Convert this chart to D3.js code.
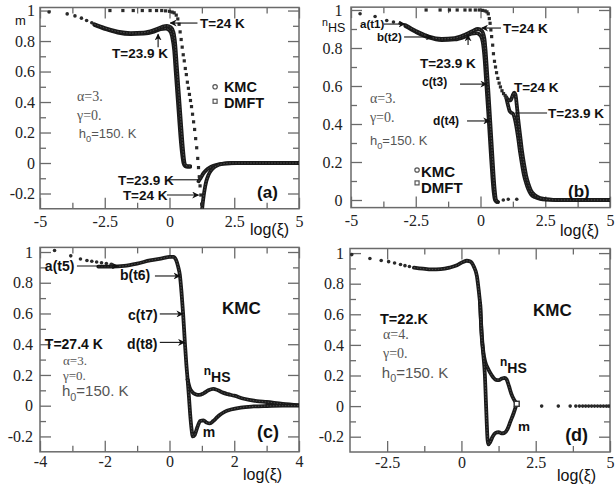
<!DOCTYPE html>
<html><head><meta charset="utf-8">
<script src="https://cdn.jsdelivr.net/npm/d3@7"></script>
<style>body{margin:0;background:#fff} svg{display:block}</style>
</head><body><svg id="c" width="616" height="487"></svg>
<script>
// ---------------- DATA ----------------
// Panel (a): m vs log(xi)
const aHeadX = [-4.65,-3.95,-3.65,-3.4,-3.2,-3.0];
const aHeadY = [0.99,0.978,0.965,0.95,0.935,0.92];
const aKmc24X = [-2.9,-2.5,-2.0,-1.5,-1.0,-0.6,-0.3,-0.1,0.05,0.15,0.22,0.28,0.34,0.4,0.46,0.52,0.57,0.62,0.7,0.8];
const aKmc24Y = [0.91,0.885,0.862,0.852,0.855,0.872,0.892,0.9,0.89,0.86,0.78,0.64,0.5,0.36,0.22,0.09,0.01,-0.015,-0.02,-0.02];
const aKmc239X = [-2.9,-2.5,-2.0,-1.5,-1.0,-0.6,-0.35,-0.15,0.0,0.1,0.18,0.24,0.3,0.36,0.42,0.48,0.54,0.6,0.7,0.8];
const aKmc239Y = [0.905,0.88,0.855,0.845,0.848,0.862,0.878,0.882,0.87,0.83,0.74,0.6,0.46,0.32,0.18,0.07,0.0,-0.02,-0.025,-0.025];
const aDmftDotX = [-2.3,-1.8,-1.4,-1.05,-0.75,-0.5,-0.3,-0.15,0.0,0.1,0.18,0.26,0.32,0.37,0.41,0.45,0.49,0.53,0.57,0.61,0.65,0.69,0.73,0.77,0.81,0.85,0.89,0.93,0.97,1.01,1.05,1.09,1.12,1.15,1.18,1.21,1.24];
const aDmftDotY = [1.0,1.0,1.0,1.0,1.0,1.0,1.0,0.998,0.995,0.99,0.985,0.97,0.945,0.91,0.86,0.81,0.76,0.71,0.67,0.62,0.58,0.53,0.49,0.45,0.41,0.37,0.32,0.27,0.22,0.16,0.1,0.03,-0.03,-0.09,-0.15,-0.21,-0.27];
const aDmft24X = [1.26,1.3,1.35,1.42,1.5,1.6,1.75,1.9,2.1,2.4,3,4,5];
const aDmft24Y = [-0.3,-0.24,-0.18,-0.12,-0.08,-0.05,-0.025,-0.012,-0.004,0,0,0,0];
const aDmft239X = [1.12,1.2,1.3,1.4,1.55,1.7,1.9,2.2,2.6,3,4,5];
const aDmft239Y = [-0.12,-0.1,-0.07,-0.05,-0.03,-0.018,-0.008,-0.002,0,0,0,0];

// Panel (b): n_HS vs log(xi)
const bHeadX = [-4.65,-4.07,-3.62,-3.36,-3.1];
const bHeadY = [0.98,0.966,0.945,0.937,0.93];
const bKmc24X = [-2.9,-2.5,-2.0,-1.5,-1.0,-0.6,-0.3,-0.1,0.05,0.15,0.2,0.25,0.3,0.35,0.4,0.45,0.5,0.55,0.6,0.68];
const bKmc24Y = [0.92,0.89,0.86,0.848,0.852,0.87,0.89,0.9,0.89,0.85,0.78,0.68,0.58,0.47,0.36,0.25,0.14,0.05,0.0,-0.01];
const bKmc239X = [-2.9,-2.5,-2.0,-1.5,-1.0,-0.6,-0.35,-0.15,0.0,0.1,0.16,0.21,0.26,0.31,0.36,0.41,0.46,0.51,0.56,0.62];
const bKmc239Y = [0.915,0.885,0.855,0.842,0.845,0.86,0.875,0.878,0.865,0.82,0.74,0.64,0.54,0.44,0.33,0.22,0.12,0.04,0.0,-0.01];
const bTailDotX = [0.88,1.07,1.4];
const bTailDotY = [0.0,0.004,0.004];
const bDmftDotX = [-2.1,-1.56,-1.2,-0.9,-0.6,-0.4,-0.2,-0.05,0.08,0.18,0.25,0.3,0.34,0.37,0.4,0.43,0.47,0.5,0.54,0.58,0.62,0.67,0.72,0.77,0.83,0.89,0.95,1.0];
const bDmftDotY = [1.0,1.0,1.0,1.0,1.0,1.0,1.0,1.0,0.998,0.995,0.99,0.98,0.955,0.93,0.895,0.86,0.815,0.77,0.73,0.7,0.67,0.64,0.615,0.595,0.575,0.56,0.55,0.54];
const bDmft24X = [1.0,1.08,1.16,1.24,1.3,1.35,1.4,1.46,1.53,1.6,1.68,1.76,1.85,1.95,2.1,2.3,2.6,3,4,5];
const bDmft24Y = [0.54,0.525,0.525,0.55,0.565,0.555,0.5,0.42,0.34,0.26,0.19,0.13,0.085,0.05,0.025,0.01,0.003,0,0,0];
const bDmft239X = [1.0,1.06,1.12,1.18,1.25,1.32,1.38,1.45,1.53,1.6,1.68,1.76,1.85,1.95,2.1,2.3,2.6,3,4,5];
const bDmft239Y = [0.535,0.5,0.47,0.46,0.455,0.43,0.39,0.33,0.25,0.19,0.13,0.09,0.055,0.03,0.015,0.006,0.002,0,0,0];

// Panel (c): T=27.4 K
const cHeadX = [-3.55,-3.05,-2.75,-2.55,-2.4,-2.25,-2.1,-1.95,-1.8];
const cHeadY = [1.01,0.975,0.955,0.945,0.94,0.935,0.93,0.925,0.92];
const cCommonX = [-2.2,-1.8,-1.4,-1.0,-0.6,-0.2,0.0,0.12,0.2,0.26,0.32,0.37,0.42,0.475,0.52,0.56];
const cCommonY = [0.905,0.905,0.91,0.925,0.945,0.96,0.968,0.968,0.95,0.91,0.85,0.74,0.6,0.41,0.27,0.17];
const cNhsX = [0.56,0.62,0.7,0.8,0.92,1.05,1.2,1.35,1.5,1.65,1.8,2.0,2.3,2.7,3.0,3.5,4.0];
const cNhsY = [0.17,0.12,0.09,0.075,0.07,0.08,0.1,0.11,0.1,0.085,0.075,0.065,0.045,0.03,0.024,0.012,0.004];
const cMX = [0.56,0.6,0.64,0.68,0.72,0.78,0.86,0.95,1.05,1.15,1.25,1.35,1.45,1.55,1.7,1.9,2.2,2.6,3.0,3.5,4.0];
const cMY = [0.17,0.06,-0.06,-0.15,-0.2,-0.19,-0.14,-0.1,-0.095,-0.11,-0.115,-0.1,-0.08,-0.06,-0.04,-0.025,-0.012,-0.005,-0.002,0.0,0.0];

// Panel (d): T=22 K, alpha=4
const dHeadX = [-3.69,-3.08,-2.7,-2.45,-2.25,-2.05,-1.9,-1.75];
const dHeadY = [0.99,0.965,0.952,0.944,0.935,0.925,0.918,0.912];
const dCommonX = [-1.6,-1.3,-1.0,-0.7,-0.4,-0.15,0.05,0.18,0.3,0.42,0.52,0.58,0.63];
const dCommonY = [0.905,0.898,0.893,0.895,0.905,0.92,0.942,0.95,0.945,0.91,0.85,0.76,0.67];
const dNhsX = [0.63,0.68,0.74,0.8,0.88,0.96,1.06,1.16,1.26,1.36,1.45,1.52,1.6,1.68,1.76,1.85];
const dNhsY = [0.67,0.48,0.35,0.29,0.25,0.22,0.19,0.172,0.17,0.18,0.185,0.175,0.13,0.08,0.045,0.02];
const dMX = [0.63,0.68,0.74,0.79,0.82,0.85,0.88,0.91,0.97,1.05,1.15,1.25,1.35,1.45,1.55,1.65,1.75,1.85];
const dMY = [0.67,0.46,0.33,0.2,0.05,-0.1,-0.22,-0.25,-0.235,-0.2,-0.175,-0.17,-0.178,-0.175,-0.15,-0.1,-0.05,0.01];
const dTailX = [2.7,3.26,3.66,3.85,3.97,4.08,4.18,4.28,4.38,4.48,4.58,4.68,4.78,4.88,4.96];
const dTailY = [0,0,0,0,0,0,0,0,0,0,0,0,0,0,0];

// tick values
const xTicksA = [-5,-2.5,0,2.5,5], xMinorA = [-3.75,-1.25,1.25,3.75];
const xTicksC = [-4,-2,0,2,4], xMinorC = [-3,-1,1,3];
const xTicksD = [-2.5,0,2.5,5], xMinorD = [-1.25,1.25,3.75];
const yTicksM = [-0.2,0,0.2,0.4,0.6,0.8,1], yMinorM = [-0.1,0.1,0.3,0.5,0.7,0.9];
const yTicksN = [0,0.2,0.4,0.6,0.8,1], yMinorN = [0.1,0.3,0.5,0.7,0.9];

// ---------------- DRAWING ----------------
const svg = d3.select('#c');
svg.append('rect').attr('width',616).attr('height',487).attr('fill','#fff');
const FR = '#6a6a6a';
const SANS = 'Liberation Sans, Arial, sans-serif';
const SERIF = 'Liberation Serif, Times New Roman, serif';
const defs = svg.append('defs');
defs.append('marker').attr('id','ah').attr('viewBox','0 0 10 10').attr('refX',9).attr('refY',5)
  .attr('markerWidth',7).attr('markerHeight',7).attr('markerUnits','userSpaceOnUse').attr('orient','auto')
  .append('path').attr('d','M0,0 L10,5 L0,10 L3,5 Z').attr('fill','#111');

const fmt = v => String(v);

function makePanel(id, L, R, T, B, xd, yd, xT, xM, yT, yM, xPad, yPad) {
  const g = svg.append('g');
  const x = d3.scaleLinear().domain(xd).range([L, R]);
  const y = d3.scaleLinear().domain(yd).range([B, T]);
  defs.append('clipPath').attr('id','cl'+id).append('rect').attr('x',L).attr('y',T).attr('width',R-L).attr('height',B-T);
  const style = (sel, labels) => {
    sel.select('.domain').remove();
    sel.selectAll('line').attr('stroke',FR).attr('stroke-width',1.3);
    sel.selectAll('text').attr('font-family',SERIF).attr('font-size',16).attr('fill','#222');
    if (!labels) sel.selectAll('text').remove();
  };
  g.append('g').attr('transform',`translate(0,${B})`).call(d3.axisBottom(x).tickValues(xT).tickSize(-11).tickPadding(xPad).tickFormat(fmt)).call(s=>style(s,true));
  g.append('g').attr('transform',`translate(0,${B})`).call(d3.axisBottom(x).tickValues(xM).tickSize(-6)).call(s=>style(s,false));
  g.append('g').attr('transform',`translate(0,${T})`).call(d3.axisTop(x).tickValues(xT).tickSize(-11)).call(s=>style(s,false));
  g.append('g').attr('transform',`translate(0,${T})`).call(d3.axisTop(x).tickValues(xM).tickSize(-6)).call(s=>style(s,false));
  g.append('g').attr('transform',`translate(${L},0)`).call(d3.axisLeft(y).tickValues(yT).tickSize(-11).tickPadding(yPad).tickFormat(fmt)).call(s=>style(s,true));
  g.append('g').attr('transform',`translate(${L},0)`).call(d3.axisLeft(y).tickValues(yM).tickSize(-6)).call(s=>style(s,false));
  g.append('g').attr('transform',`translate(${R},0)`).call(d3.axisRight(y).tickValues(yT).tickSize(-11)).call(s=>style(s,false));
  g.append('g').attr('transform',`translate(${R},0)`).call(d3.axisRight(y).tickValues(yM).tickSize(-6)).call(s=>style(s,false));
  g.append('rect').attr('x',L).attr('y',T).attr('width',R-L).attr('height',B-T).attr('fill','none').attr('stroke',FR).attr('stroke-width',1.5);
  const plot = g.append('g').attr('clip-path',`url(#cl${id})`);
  return {g, plot, x, y};
}

function thick(P, xs, ys) {
  const pts = xs.map((v,i)=>[v, ys[i]]);
  const line = d3.line().x(d=>P.x(d[0])).y(d=>P.y(d[1])).curve(d3.curveMonotoneX);
  P.plot.append('path').attr('d',line(pts)).attr('fill','none').attr('stroke','#1a1a1a').attr('stroke-width',3.8).attr('stroke-linejoin','round').attr('stroke-linecap','round');
  P.plot.append('path').attr('d',line(pts)).attr('fill','none').attr('stroke','#555').attr('stroke-width',0.9).attr('stroke-dasharray','1.5,1.5');
}
function dots(P, xs, ys, shape) {
  const pts = xs.map((v,i)=>[v, ys[i]]);
  if (shape === 'sq') {
    P.plot.selectAll(null).data(pts).enter().append('rect')
      .attr('x',d=>P.x(d[0])-1.6).attr('y',d=>P.y(d[1])-1.6).attr('width',3.2).attr('height',3.2).attr('fill','#2a2a2a');
  } else {
    P.plot.selectAll(null).data(pts).enter().append('circle')
      .attr('cx',d=>P.x(d[0])).attr('cy',d=>P.y(d[1])).attr('r',1.8).attr('fill','#2a2a2a');
  }
}
function txt(P, xv, yv, s, size, opt={}) {
  return P.g.append('text').attr('x',P.x(xv)).attr('y',P.y(yv)).text(s)
    .attr('font-family',opt.serif?SERIF:SANS).attr('font-size',size)
    .attr('font-weight',opt.normal?'normal':'bold').attr('fill',opt.color||'#111');
}
function h0txt(P, xv, yv, size, color) {
  const t = P.g.append('text').attr('x',P.x(xv)).attr('y',P.y(yv)).attr('font-family',SANS).attr('font-size',size).attr('fill',color);
  t.append('tspan').text('h');
  t.append('tspan').text('0').attr('font-size',size*0.72).attr('dy',size*0.28);
  t.append('tspan').text('=150. K').attr('dy',-size*0.28);
}
function nhs(g, px, py, size, weight) {
  const t = g.append('text').attr('x',px).attr('y',py).attr('font-family',SANS).attr('font-size',size).attr('font-weight',weight).attr('fill','#111');
  t.append('tspan').text('n').attr('font-size',size*0.85).attr('dy',-size*0.5);
  t.append('tspan').text('HS').attr('dy',size*0.5);
}
function arrow(P, x1, y1, x2, y2, head=true) {
  const l = P.g.append('line').attr('x1',P.x(x1)).attr('y1',P.y(y1)).attr('x2',P.x(x2)).attr('y2',P.y(y2))
    .attr('stroke','#111').attr('stroke-width',1.1);
  if (head) l.attr('marker-end','url(#ah)');
}

// ---- Panel (a)
const A = makePanel('a', 40, 299, 7.5, 208.75, [-5,5], [-0.3,1.02], xTicksA, xMinorA, yTicksM, yMinorM, 6.5, 5);
thick(A, aKmc239X, aKmc239Y);
thick(A, aKmc24X, aKmc24Y);
thick(A, aDmft239X, aDmft239Y);
thick(A, aDmft24X, aDmft24Y);
dots(A, aHeadX, aHeadY, 'c');
dots(A, aDmftDotX, aDmftDotY, 'sq');
txt(A, 1.18, 0.885, 'T=24 K', 13.5); arrow(A, 1.08, 0.918, 0.03, 0.918);
txt(A, -2.22, 0.69, 'T=23.9 K', 13.5); arrow(A, -0.44, 0.76, -0.44, 0.845);
A.g.append('circle').attr('cx',A.x(1.76)).attr('cy',A.y(0.5)).attr('r',2.2).attr('fill','#fff').attr('stroke','#555').attr('stroke-width',1.2);
A.g.append('rect').attr('x',A.x(1.76)-2).attr('y',A.y(0.405)-2).attr('width',4).attr('height',4).attr('fill','#fff').attr('stroke','#555').attr('stroke-width',1.2);
txt(A, 2.1, 0.468, 'KMC', 14.5); txt(A, 2.1, 0.36, 'DMFT', 14.5);
txt(A, -3.57, 0.41, 'α=3.', 14, {serif:true, normal:true, color:'#555'});
txt(A, -3.57, 0.28, 'γ=0.', 14, {serif:true, normal:true, color:'#555'});
h0txt(A, -3.5, 0.164, 13, '#555');
txt(A, -1.99, -0.144, 'T=23.9 K', 13.5); arrow(A, -0.06, -0.11, 1.1, -0.11, false);
txt(A, -1.8, -0.243, 'T=24 K', 13.5); arrow(A, -0.1, -0.21, 1.12, -0.21);
txt(A, 3.38, -0.23, '(a)', 17);
A.g.append('text').attr('x',15).attr('y',25).text('m').attr('font-family',SANS).attr('font-size',13).attr('fill','#111');
A.g.append('text').attr('x',250).attr('y',235).text('log(ξ)').attr('font-family',SANS).attr('font-size',16).attr('fill','#111');

// ---- Panel (b)
const Bp = makePanel('b', 351, 610, 7.15, 207.6, [-5,5], [-0.04,1.015], xTicksA, xMinorA, yTicksN, yMinorN, 7.5, 8.5);
thick(Bp, bKmc239X, bKmc239Y);
thick(Bp, bKmc24X, bKmc24Y);
thick(Bp, bDmft239X, bDmft239Y);
thick(Bp, bDmft24X, bDmft24Y);
dots(Bp, bHeadX, bHeadY, 'c');
dots(Bp, bTailDotX, bTailDotY, 'c');
dots(Bp, bDmftDotX, bDmftDotY, 'sq');
txt(Bp, -4.65, 0.905, 'a(t1)', 11.5); arrow(Bp, -3.73, 0.926, -2.92, 0.926);
txt(Bp, -4.0, 0.837, 'b(t2)', 11.5); arrow(Bp, -2.95, 0.858, -1.87, 0.858);
txt(Bp, 0.87, 0.88, 'T=24 K', 13.5); arrow(Bp, 0.79, 0.905, 0.05, 0.905);
arrow(Bp, -0.48, 0.816, -0.48, 0.868);
txt(Bp, -2.34, 0.695, 'T=23.9 K', 13.5);
txt(Bp, -2.26, 0.6, 'c(t3)', 12); arrow(Bp, -0.79, 0.61, 0.24, 0.61);
txt(Bp, -1.83, 0.395, 'd(t4)', 12); arrow(Bp, -0.52, 0.416, 0.35, 0.416);
txt(Bp, 1.29, 0.568, 'T=24 K', 13.5);
txt(Bp, 2.61, 0.43, 'T=23.9 K', 13.5); arrow(Bp, 1.33, 0.458, 2.57, 0.458, false);
txt(Bp, -4.27, 0.51, 'α=3.', 14, {serif:true, normal:true, color:'#555'});
txt(Bp, -4.27, 0.41, 'γ=0.', 14, {serif:true, normal:true, color:'#555'});
h0txt(Bp, -4.27, 0.29, 13, '#555');
Bp.g.append('circle').attr('cx',Bp.x(-2.45)).attr('cy',Bp.y(0.158)).attr('r',2.2).attr('fill','#fff').attr('stroke','#555').attr('stroke-width',1.2);
Bp.g.append('rect').attr('x',Bp.x(-2.45)-2).attr('y',Bp.y(0.09)-2).attr('width',4).attr('height',4).attr('fill','#fff').attr('stroke','#555').attr('stroke-width',1.2);
txt(Bp, -2.3, 0.12, 'KMC', 15); txt(Bp, -2.3, 0.037, 'DMFT', 15);
txt(Bp, 3.38, 0.016, '(b)', 17);
nhs(Bp.g, 322, 32, 12.5, 'normal');
Bp.g.append('text').attr('x',560).attr('y',236).text('log(ξ)').attr('font-family',SANS).attr('font-size',16).attr('fill','#111');

// ---- Panel (c)
const C = makePanel('c', 40, 299, 247.4, 451.8, [-4,4], [-0.3,1.03], xTicksC, xMinorC, yTicksM, yMinorM, 3.5, 7);
thick(C, cCommonX, cCommonY);
thick(C, cNhsX, cNhsY);
thick(C, cMX, cMY);
dots(C, cHeadX, cHeadY, 'c');
txt(C, -3.85, 0.876, 'a(t5)', 14); arrow(C, -2.86, 0.909, -1.59, 0.909);
txt(C, -1.53, 0.818, 'b(t6)', 14); arrow(C, -0.45, 0.844, 0.32, 0.844);
txt(C, -1.28, 0.558, 'c(t7)', 14); arrow(C, -0.3, 0.597, 0.41, 0.597);
txt(C, -3.85, 0.37, 'T=27.4 K', 14);
txt(C, -1.31, 0.37, 'd(t8)', 14); arrow(C, -0.3, 0.412, 0.46, 0.412);
txt(C, 1.62, 0.597, 'KMC', 17);
txt(C, -3.29, 0.265, 'α=3.', 13, {serif:true, normal:true, color:'#555'});
txt(C, -3.29, 0.17, 'γ=0.', 13, {serif:true, normal:true, color:'#555'});
h0txt(C, -3.32, 0.06, 15, '#555');
nhs(C.g, C.x(1.06), C.y(0.157), 14, 'bold');
txt(C, 1.03, -0.204, 'm', 14);
txt(C, 2.7, -0.21, '(c)', 18);
C.g.append('text').attr('x',243).attr('y',480).text('log(ξ)').attr('font-family',SANS).attr('font-size',16).attr('fill','#111');

// ---- Panel (d)
const D = makePanel('d', 350, 610, 248.5, 452, [-3.75,5], [-0.3,1.03], xTicksD, xMinorD, yTicksM, yMinorM, 4.5, 6);
thick(D, dCommonX, dCommonY);
thick(D, dNhsX, dNhsY);
thick(D, dMX, dMY);
dots(D, dHeadX, dHeadY, 'c');
dots(D, dTailX, dTailY, 'c');
D.g.append('rect').attr('x',D.x(1.86)-2.5).attr('y',D.y(0.015)-2.5).attr('width',5).attr('height',5).attr('fill','#fff').attr('stroke','#333').attr('stroke-width',1.4);
txt(D, -2.74, 0.534, 'T=22.K', 14.5);
txt(D, -2.64, 0.436, 'α=4.', 14, {serif:true, normal:true, color:'#555'});
txt(D, -2.64, 0.312, 'γ=0.', 14, {serif:true, normal:true, color:'#555'});
h0txt(D, -2.68, 0.182, 15, '#555');
txt(D, 2.41, 0.586, 'KMC', 17);
nhs(D.g, D.x(1.3), D.y(0.215), 14, 'bold');
txt(D, 1.9, -0.163, 'm', 13.5);
txt(D, 3.49, -0.228, '(d)', 18);
D.g.append('text').attr('x',557).attr('y',481).text('log(ξ)').attr('font-family',SANS).attr('font-size',16).attr('fill','#111');
</script></body></html>
